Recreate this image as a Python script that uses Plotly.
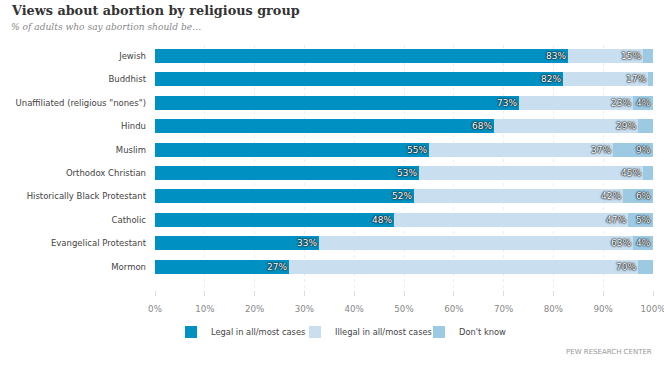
import plotly.graph_objects as go

groups = ["Jewish", "Buddhist", "Unaffiliated (religious \"nones\")", "Hindu", "Muslim",
          "Orthodox Christian", "Historically Black Protestant", "Catholic",
          "Evangelical Protestant", "Mormon"]
legal = [83, 82, 73, 68, 55, 53, 52, 48, 33, 27]
illegal = [15, 17, 23, 29, 37, 45, 42, 47, 63, 70]
dont_know_labeled = [None, None, 4, None, 9, None, 6, 5, 4, None]
dont_know = [d if d is not None else 100 - l - i for d, l, i in zip(dont_know_labeled, legal, illegal)]
tick_vals = [0, 10, 20, 30, 40, 50, 60, 70, 80, 90, 100]
tick_text = ["0%", "10%", "20%", "30%", "40%", "50%", "60%", "70%", "80%", "90%", "100%"]

c_legal = "#0091c2"
c_illegal = "#c9dff0"
c_dk = "#9ccae3"
FONT = "DejaVu Sans"

W, H = 664, 370
ML, MR, MT, MB = 155, 11, 45, 80
PW, PH = W - ML - MR, H - MT - MB


def px_x(p):
    return (p - ML) / PW


def px_y(p):
    return 1 - (p - MT) / PH


ypos = list(range(len(groups)))

fig = go.Figure()
for name, vals, col in [("Legal in all/most cases", legal, c_legal),
                        ("Illegal in all/most cases", illegal, c_illegal),
                        ("Don't know", dont_know, c_dk)]:
    fig.add_trace(go.Bar(
        y=ypos, x=vals, name=name, orientation="h",
        marker=dict(color=col, line=dict(width=0)),
        hoverinfo="skip",
    ))

shadow = "0 0 2px #111, 0 0 2px #222, 0 0 1px #111"
ann = []
for i in ypos:
    ends = [legal[i], legal[i] + illegal[i], legal[i] + illegal[i] + dont_know[i]]
    labels = [legal[i], illegal[i], dont_know_labeled[i]]
    for e, lab in zip(ends, labels):
        if lab is None:
            continue
        ann.append(dict(x=min(e, 100), y=i, xref="x", yref="y", text=f"{lab}%",
                        showarrow=False, xanchor="right", yanchor="middle", xshift=0,
                        font=dict(family=FONT, size=9, color="white", shadow=shadow)))

ann.append(dict(x=px_x(9), y=px_y(10), xref="paper", yref="paper",
                text="<b>Views about abortion by religious group</b>",
                showarrow=False, xanchor="left", yanchor="middle",
                font=dict(family="DejaVu Serif", size=12.8, color="#333333")))
ann.append(dict(x=px_x(9), y=px_y(27), xref="paper", yref="paper",
                text="<i>% of adults who say abortion should be…</i>",
                showarrow=False, xanchor="left", yanchor="middle",
                font=dict(family="DejaVu Serif", size=9.1, color="#888888")))
ann.append(dict(x=px_x(654), y=px_y(352), xref="paper", yref="paper", text="PEW RESEARCH CENTER",
                showarrow=False, xanchor="right", yanchor="middle",
                font=dict(family=FONT, size=7, color="#999999")))

fig.update_layout(
    width=W, height=H,
    margin=dict(l=ML, r=MR, t=MT, b=MB, autoexpand=False),
    paper_bgcolor="white", plot_bgcolor="white",
    barmode="stack", bargap=0.4,
    xaxis=dict(range=[0, 100], tickvals=tick_vals, ticktext=tick_text,
               showgrid=True, gridcolor="#eeeeee", griddash="dot", gridwidth=1,
               zeroline=False, showline=False,
               ticks="outside", ticklen=5, tickcolor="#dddddd",
               ticklabelstandoff=6, ticklabeloverflow="allow",
               tickfont=dict(family=FONT, size=8.7, color="#888888")),
    yaxis=dict(tickvals=ypos, ticktext=groups, range=[10.0, -0.47],
               showgrid=False, zeroline=False, ticks="", ticklabelstandoff=8,
               tickfont=dict(family=FONT, size=8.5, color="#444444")),
    legend=dict(orientation="h", x=px_x(171), xanchor="left", y=px_y(332), yanchor="middle",
                traceorder="normal", entrywidth=79, entrywidthmode="pixels",
                font=dict(family=FONT, size=8.3, color="#444444"),
                itemwidth=30, tracegroupgap=0),
    annotations=ann,
    showlegend=True,
)

fig.write_html("out.html", config={"displayModeBar": False},
               post_script="document.body.style.margin='0px';")
